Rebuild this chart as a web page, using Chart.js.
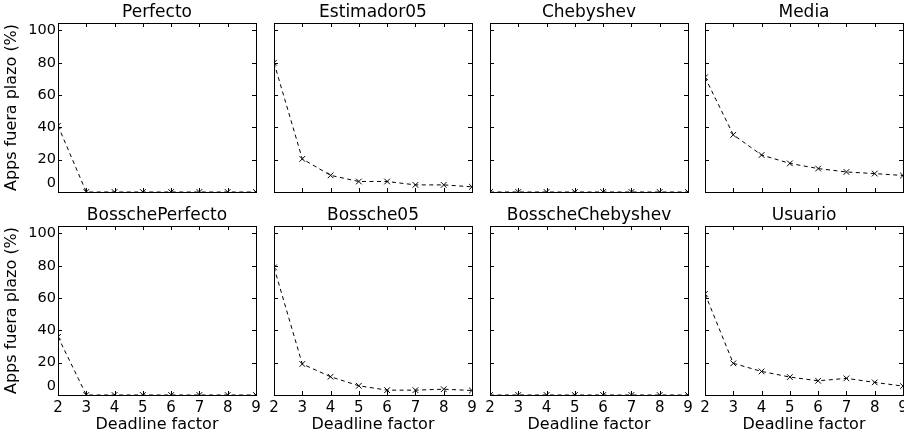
<!DOCTYPE html>
<html lang="es">
<head>
  <meta charset="UTF-8">
  <title>Apps fuera plazo</title>
  <script src="https://cdn.jsdelivr.net/npm/chart.js"></script>
  <style>
    body { margin: 0; background: #fff; width: 904px; height: 438px; overflow: hidden; position: relative; }
    .panel { position: absolute; }
  </style>
</head>
<body>
  <div id="charts"></div>
  <script>
    // Datos
    const deadlineFactors = [2, 3, 4, 5, 6, 7, 8, 9];
    const yTicks = [0, 20, 40, 60, 80, 100];
    const panelTitles = ['Perfecto', 'Estimador05', 'Chebyshev', 'Media',
                         'BosschePerfecto', 'Bossche05', 'BosscheChebyshev', 'Usuario'];
    const perfecto         = [41, 0, 0, 0, 0, 0, 0, 0];
    const estimador05      = [80, 20.5, 10.3, 6.5, 6.5, 4.4, 4.4, 3.2];
    const chebyshev        = [0, 0, 0, 0, 0, 0, 0, 0];
    const media            = [71, 35.4, 22.9, 17.7, 14.5, 12.4, 11.4, 10.2];
    const bosschePerfecto  = [36, 0, 0, 0, 0, 0, 0, 0];
    const bossche05        = [79, 19.2, 11.3, 5.7, 3.0, 3.0, 3.6, 2.8];
    const bosscheChebyshev = [0, 0, 0, 0, 0, 0, 0, 0];
    const usuario          = [62.6, 19.6, 14.6, 11.1, 8.8, 10.3, 7.8, 5.5];
    const series = [perfecto, estimador05, chebyshev, media,
                    bosschePerfecto, bossche05, bosscheChebyshev, usuario];

    const font = "'DejaVu Sans', sans-serif";
    const plotLefts = [58, 274, 490, 705];
    const plotW = 198, plotH = 169;
    const yAxisW = 58, titleH = 23;

    // Marco y marcas de graduación hacia dentro (estilo matplotlib clásico)
    const frameTicks = {
      id: 'frameTicks',
      afterDatasetsDraw(chart) {
        const { ctx, chartArea: a, scales: { x, y } } = chart;
        ctx.save();
        ctx.strokeStyle = '#000';
        ctx.lineWidth = 1;
        ctx.beginPath();
        deadlineFactors.forEach(v => {
          const px = Math.round(x.getPixelForValue(v)) + 0.5;
          ctx.moveTo(px, a.bottom); ctx.lineTo(px, a.bottom - 4);
          ctx.moveTo(px, a.top);    ctx.lineTo(px, a.top + 4);
        });
        yTicks.forEach(v => {
          const py = Math.round(y.getPixelForValue(v)) + 0.5;
          ctx.moveTo(a.left, py);  ctx.lineTo(a.left + 4, py);
          ctx.moveTo(a.right, py); ctx.lineTo(a.right - 4, py);
        });
        ctx.stroke();
        ctx.strokeRect(Math.round(a.left) + 0.5, Math.round(a.top) + 0.5,
                       Math.round(a.right - a.left), Math.round(a.bottom - a.top));
        ctx.restore();
      }
    };

    panelTitles.forEach((name, i) => {
      const row = Math.floor(i / 4), col = i % 4;
      const firstCol = col === 0, bottomRow = row === 1;
      const xAxisH = bottomRow ? 43 : 3;
      const top = row === 0 ? 0 : 203;

      // lienzo simétrico (eje derecho vacío) para centrar el título sobre el área del gráfico
      const div = document.createElement('div');
      div.className = 'panel';
      div.style.left = (plotLefts[col] - yAxisW) + 'px';
      div.style.top = top + 'px';
      div.style.width = (yAxisW + plotW + yAxisW) + 'px';
      div.style.height = (titleH + plotH + xAxisH) + 'px';
      const canvas = document.createElement('canvas');
      div.appendChild(canvas);
      document.getElementById('charts').appendChild(div);

      new Chart(canvas, {
        type: 'line',
        data: {
          datasets: [{
            data: deadlineFactors.map((f, k) => ({ x: f, y: series[i][k] })),
            borderColor: '#000',
            borderWidth: 1,
            borderDash: [4, 3.5],
            pointStyle: 'crossRot',
            pointRadius: 4,
            pointBorderWidth: 1,
            pointBorderColor: '#000',
            fill: false,
            tension: 0,
            clip: 0
          }]
        },
        options: {
          responsive: true,
          maintainAspectRatio: false,
          animation: false,
          events: [],
          layout: { autoPadding: false, padding: 0 },
          plugins: {
            legend: { display: false },
            tooltip: { enabled: false },
            title: {
              display: true,
              text: name,
              color: '#000',
              font: { family: font, size: 17, weight: 'normal', lineHeight: 1.2 },
              padding: { top: 2.6, bottom: 0 }
            }
          },
          scales: {
            x: {
              type: 'linear',
              min: 2,
              max: 9,
              afterBuildTicks: s => { s.ticks = deadlineFactors.map(v => ({ value: v })); },
              afterFit: s => { s.height = xAxisH; s.paddingLeft = 0; s.paddingRight = 0; },
              grid: { display: false, drawTicks: false },
              border: { display: false },
              ticks: {
                display: bottomRow,
                color: '#000',
                padding: 4,
                maxRotation: 0,
                autoSkip: false,
                font: { family: font, size: 15 }
              },
              title: {
                display: bottomRow,
                text: 'Deadline factor',
                color: '#000',
                font: { family: font, size: 16, lineHeight: 1.2 },
                padding: { top: 0, bottom: 3.5 }
              }
            },
            y: {
              min: 0,
              max: 104.6,
              afterBuildTicks: s => { s.ticks = yTicks.map(v => ({ value: v })); },
              afterFit: s => { s.width = yAxisW; s.paddingTop = 0; s.paddingBottom = 0; },
              grid: { display: false, drawTicks: false },
              border: { display: false },
              ticks: {
                display: firstCol,
                color: '#000',
                padding: 2,
                autoSkip: false,
                font: { family: font, size: 14.5, lineHeight: 1.2 },
                // la etiqueta "0" aparece algo más arriba en el original
                callback: v => v === 0 ? ['0', ''] : String(v)
              },
              title: {
                display: firstCol,
                text: 'Apps fuera plazo (%)',
                color: '#000',
                font: { family: font, size: 16, lineHeight: 1.2 },
                padding: { top: 2.5, bottom: 0 }
              }
            },
            yRight: {
              position: 'right',
              min: 0,
              max: 104.6,
              afterFit: s => { s.width = yAxisW; s.paddingTop = 0; s.paddingBottom = 0; },
              grid: { display: false, drawTicks: false },
              border: { display: false },
              ticks: { display: false }
            }
          }
        },
        plugins: [frameTicks]
      });
    });
  </script>
</body>
</html>
